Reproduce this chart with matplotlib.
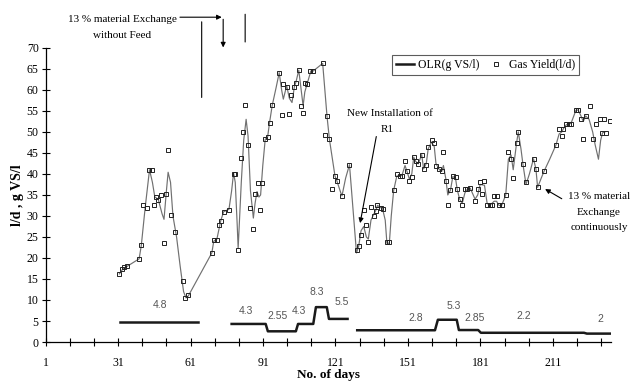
import matplotlib
matplotlib.use("Agg")
import matplotlib.pyplot as plt
from matplotlib.lines import Line2D

plt.rcParams['font.family'] = ['Liberation Serif', 'DejaVu Serif']

# gas yield readings (l/d)
gas_days = [31.5, 32.7, 33.6, 34.7, 39.7, 40.5, 41.5, 42.8, 43.6, 44.9, 45.7, 46.5,
            47.6, 48.7, 49.9, 50.7, 51.5, 52.9, 54.7, 57.8, 58.6, 60.0,
            69.8, 70.6, 71.9, 72.8, 73.5, 74.7, 76.9, 78.8, 79.5, 80.8, 81.8, 82.7,
            83.7, 84.7, 85.8, 87.0, 87.7, 88.8, 89.6, 90.4, 91.8, 92.9, 93.7, 94.8,
            97.7, 98.7, 99.4, 100.8, 101.6, 102.7, 104.0, 104.7, 105.8, 106.8, 107.6,
            108.3, 109.2, 110.4, 111.5, 115.7, 116.7, 117.5, 118.5, 119.6, 120.8,
            121.6, 123.7, 126.8, 129.9, 130.6, 131.6, 132.7, 133.7, 134.6, 135.7,
            136.9, 137.6, 138.4, 139.7, 140.5, 142.3, 143.3, 145.1, 146.4, 147.7,
            148.5, 149.8, 150.5, 151.6, 152.6, 153.4, 154.2, 155.3, 156.7, 157.5,
            158.6, 159.4, 160.8, 161.9, 162.6, 163.9, 165.0, 165.7, 166.7, 167.5,
            168.6, 169.6, 170.7, 171.4, 172.4, 173.5, 174.6, 175.6, 176.8, 178.8,
            179.9, 180.9, 181.6, 182.7, 183.8, 184.9, 185.8, 186.7, 187.7, 188.7,
            189.8, 191.5, 192.6, 193.7, 194.6, 196.0, 196.7, 198.6, 199.9, 203.0,
            204.0, 204.7, 207.5, 212.3, 213.6, 214.7, 215.4, 216.4, 217.5, 218.5,
            220.6, 221.5, 222.5, 223.6, 224.6, 226.4, 227.8, 228.8, 230.6, 231.5,
            232.2, 232.9, 234.6]
gas_yield = [16.2, 17.3, 17.8, 18.0, 19.7, 23.0, 32.6, 32.0, 41.0, 41.0, 32.5, 34.4,
             33.9, 35.0, 23.5, 35.2, 45.8, 30.2, 26.2, 14.6, 10.5, 11.2,
             21.2, 24.3, 24.3, 27.8, 28.9, 31.0, 31.5, 40.1, 40.0, 21.9, 43.8, 50.0,
             56.4, 46.8, 31.8, 27.0, 35.3, 37.9, 31.3, 37.9, 48.4, 48.7, 52.2, 56.3,
             64.1, 54.1, 61.3, 60.8, 54.3, 58.7, 60.8, 61.7, 64.7, 56.2, 54.6,
             61.7, 61.4, 64.4, 64.4, 66.3, 49.2, 53.7, 48.2, 36.3, 39.5,
             38.3, 34.8, 42.1, 21.8, 22.8, 25.4, 31.5, 27.9, 23.8, 32.1,
             30.1, 31.1, 32.7, 31.9, 31.7, 23.7, 23.7, 36.1, 40.1, 39.6,
             39.6, 43.0, 40.6, 38.3, 39.3, 44.1, 43.0, 42.4, 44.6, 41.2,
             42.2, 46.5, 48.0, 47.4, 42.0, 41.1, 40.6, 45.2, 38.4, 32.5,
             36.1, 39.6, 39.3, 36.3, 34.1, 32.7, 36.3, 36.4, 36.7, 33.5,
             36.3, 38.0, 35.3, 38.4, 32.7, 32.5, 32.5, 34.7, 34.7, 32.5,
             32.5, 35.1, 45.2, 43.6, 39.1, 47.4, 50.0, 42.4, 38.0, 43.6,
             41.2, 36.9, 40.8, 46.9, 50.6, 49.0, 50.8, 51.8, 52.0, 52.0,
             55.2, 55.2, 53.1, 48.4, 53.8, 56.2, 48.4, 51.8, 53.1, 49.8,
             53.1, 49.8, 52.6]

# smoothed gas yield trend
trend_days = [31.5, 32.7, 34.7, 39.7, 40.6, 42.2, 44.0, 45.2, 46.2, 47.6, 49.2, 50.0,
              51.0, 51.7, 52.7, 53.7, 55.2, 56.7, 58.1, 59.1, 60.1,
              69.8, 70.6, 71.9, 73.5, 74.7, 76.9, 78.0, 78.8, 79.5, 80.3, 80.7, 82.0,
              83.0, 84.0, 84.8, 85.8, 87.0, 87.7, 88.5, 89.3, 90.0, 90.9, 91.9, 92.9,
              93.7, 94.8, 96.4, 97.7, 98.7, 99.4, 100.8, 101.9, 103.0, 104.0, 104.7,
              105.8, 106.8, 107.6, 108.3, 109.3, 110.8, 111.8, 115.7, 117.5, 118.5,
              119.6, 120.8, 121.6, 123.2, 123.7, 125.2, 126.8, 128.2, 129.7, 130.6,
              131.6, 132.7, 133.8, 134.6, 135.7, 136.9, 137.6, 138.4, 139.7, 140.5,
              141.6, 142.3, 143.3, 144.1, 145.1, 146.4, 147.7, 148.5, 149.8, 150.5,
              151.6, 152.6, 153.4, 154.2, 155.3, 156.7, 157.5, 158.6, 159.4, 160.8,
              161.9, 162.6, 164.0, 165.0, 165.7, 166.7, 167.5, 168.6, 169.6, 170.7,
              171.4, 172.4, 173.5, 174.6, 175.6, 176.8, 178.8, 179.9, 180.9, 182.7,
              183.8, 184.9, 186.7, 187.7, 188.7, 189.8, 191.5, 192.6, 193.7, 194.6,
              196.0, 196.7, 197.8, 198.6, 199.9, 201.3, 203.0, 204.0, 204.7, 206.2,
              207.5, 209.7, 212.3, 213.6, 214.7, 215.4, 216.4, 217.5, 218.5, 220.6,
              221.5, 222.5, 223.6, 224.6, 226.0, 227.5, 228.5, 229.9, 230.8, 231.6,
              232.6]
trend_vals = [16.2, 17.2, 18.0, 19.8, 23, 32, 41, 38, 34.5, 34, 30.5, 29.2,
              36, 40.4, 38, 30, 25, 18, 12, 10.5, 11,
              21.2, 24, 24.5, 28.9, 31, 31.6, 36, 40.2, 38, 28, 22.3, 38,
              48, 53, 49, 36, 29.5, 33, 35.8, 34.5, 35, 42, 48.2, 48.8,
              52.2, 56.3, 60.5, 64.1, 60, 57.8, 61, 58, 57, 60.8, 62,
              64.7, 60, 56.2, 59.5, 61.5, 64.5, 64.5, 66.3, 53.7, 48.2,
              44, 39.5, 38.3, 35.5, 34.8, 39, 42.2, 32, 21.2, 22.8,
              26.5, 27.5, 25, 24.5, 29, 30.5, 31.2, 32.5, 32, 31.7,
              29, 23.5, 23.5, 30, 36.1, 39.5, 39.6, 39.6, 42, 40.8,
              38.8, 40, 44, 43, 42.4, 44.6, 41.2, 42.5, 46, 47.6,
              46.5, 42.5, 41, 40.6, 42, 38.8, 35, 36.1, 39.4, 39,
              36.3, 34, 33, 35.5, 36.4, 36.6, 34, 35, 37.5, 37.3,
              33, 32.5, 33.5, 33.5, 32.5, 32.5, 35, 43.5, 44.5, 41,
              47.4, 50, 46, 42.4, 37.5, 40, 43.6, 41.2, 36.8, 39,
              40.8, 43.5, 46.9, 49.5, 50, 50.8, 51.6, 52, 52, 55.2,
              55.2, 54, 52.5, 53.8, 53, 50, 47, 43.5, 48, 49.8,
              50]

# organic loading rate (g VS/l), three feeding periods
olr_days = [[31.8, 64.2],
            [78.0, 92.1, 93.0, 104.6, 105.5, 111.8, 112.9, 117.4, 118.3, 126.0],
            [130.0, 162.2, 163.4, 171.2, 172.1, 180.1, 181.2, 223.9, 225.1, 234.7]]
olr_vals = [[4.8, 4.8],
            [4.3, 4.3, 2.55, 2.55, 4.3, 4.3, 8.3, 8.3, 5.5, 5.5],
            [2.8, 2.8, 5.3, 5.3, 2.85, 2.85, 2.2, 2.2, 2.0, 2.0]]

olr_labels = ['4.8', '4.3', '2.55', '4.3', '8.3', '5.5', '2.8', '5.3', '2.85', '2.2', '2']
olr_label_x = [48.3, 83.8, 97.1, 105.9, 113.2, 123.8, 154.3, 169.8, 178.8, 199.1, 230.5]
olr_label_y = [8.7, 7.4, 6.3, 7.4, 11.9, 9.5, 5.6, 8.6, 5.6, 6.2, 5.4]

fig = plt.figure(figsize=(6.3, 3.83), dpi=100)
ax = fig.add_axes([0.0725, 0.107, 0.897, 0.768])

ax.plot(trend_days, trend_vals, color='#707070', lw=0.85, zorder=2)
ax.plot(gas_days, gas_yield, 's', ms=3.4, mfc='none', mec='#222222', mew=0.7, zorder=3)
for d, v in zip(olr_days, olr_vals):
    ax.plot(d, v, color='#1a1a1a', lw=1.8, solid_joinstyle='round', zorder=3)

for t, x, y in zip(olr_labels, olr_label_x, olr_label_y):
    ax.text(x, y, t, ha='center', va='center', fontsize=7.5,
            family='Liberation Sans', color='#555555')

ax.set_xlim(1, 235)
ax.set_ylim(0, 70)
ax.set_xticks(range(1, 212, 30))
ax.set_xticks(range(1, 235, 10), minor=True)
ax.set_yticks(range(0, 71, 5))
ax.tick_params(which='both', direction='inout', length=6, width=0.8, labelsize=8.5, pad=2)
ax.tick_params(axis='x', pad=8)
for s in ['top', 'right']:
    ax.spines[s].set_visible(False)
ax.spines['left'].set_linewidth(0.9)
ax.spines['bottom'].set_linewidth(0.9)

ax.set_xlabel('No. of days', fontsize=9.5, fontweight='bold', labelpad=0)
ax.set_ylabel('l/d , g VS/l', fontsize=10, fontweight='bold', labelpad=2)

handles = [Line2D([], [], color='#1a1a1a', lw=1.8),
           Line2D([], [], ls='none', marker='s', ms=3.2, mfc='none', mec='#222222', mew=0.7)]
leg = ax.legend(handles, ['OLR(g VS/l)', 'Gas Yield(l/d)'], ncol=2, loc='upper right',
                bbox_to_anchor=(0.955, 0.997), fontsize=8.5, frameon=True, fancybox=False,
                edgecolor='#333333', borderpad=0.35, handlelength=1.5, columnspacing=0.6,
                handletextpad=0.4)
leg.get_frame().set_linewidth(0.8)

arr = dict(arrowstyle='-|>', color='k', lw=0.8, mutation_scale=7, shrinkA=0, shrinkB=0)
line = dict(arrowstyle='-', color='k', lw=0.8, shrinkA=0, shrinkB=0)

# feed stop annotation above the plot
ax.text(32.6, 76.7, '13 % material Exchange', ha='center', va='center', fontsize=8)
ax.text(32.6, 72.9, 'without Feed', ha='center', va='center', fontsize=8)
ax.annotate('', xy=(73.9, 77.3), xytext=(56.6, 77.3), arrowprops=arr, annotation_clip=False)
ax.annotate('', xy=(74.5, 70.1), xytext=(74.5, 76.8), arrowprops=arr, annotation_clip=False)
ax.annotate('', xy=(65.6, 58.2), xytext=(65.6, 76.2), arrowprops=line, annotation_clip=False)
ax.annotate('', xy=(83.6, 71.4), xytext=(83.6, 78.0), arrowprops=line, annotation_clip=False)

ax.text(143.5, 54.4, 'New Installation of', ha='center', va='center', fontsize=8)
ax.text(142.3, 50.6, 'R1', ha='center', va='center', fontsize=8)
ax.annotate('', xy=(131.2, 28.3), xytext=(137.9, 48.9), arrowprops=arr)

ax.text(230.1, 34.6, '13 % material', ha='center', va='center', fontsize=8, clip_on=False)
ax.text(230.1, 30.8, 'Exchange', ha='center', va='center', fontsize=8, clip_on=False)
ax.text(230.1, 27.2, 'continuously', ha='center', va='center', fontsize=8, clip_on=False)
ax.annotate('', xy=(207.8, 36.4), xytext=(214.7, 34.1), arrowprops=arr)

fig.savefig('out.png', dpi=100)
